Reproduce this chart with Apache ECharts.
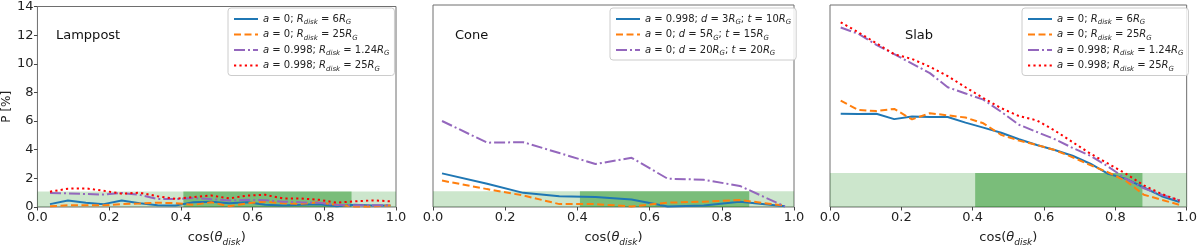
<!DOCTYPE html>
<html><head><meta charset="utf-8">
<script src="https://cdn.jsdelivr.net/npm/echarts@6/dist/echarts.min.js"></script>
<style>html,body{margin:0;padding:0;background:#fff}#c{width:1200px;height:252px}</style>
</head><body><div id="c"></div>
<script>
// ---------- data ----------
const xTicks = [0.0, 0.2, 0.4, 0.6, 0.8, 1.0];
const yTicks = [0, 2, 4, 6, 8, 10, 12, 14];
const panelTitles = ['Lamppost', 'Cone', 'Slab'];

const lampX = [0.035,0.085,0.135,0.185,0.235,0.285,0.335,0.385,0.435,0.485,0.535,0.585,0.635,0.685,0.735,0.785,0.835,0.885,0.935,0.985];
const lampA0R6 = [0.2,0.46,0.3,0.2,0.46,0.26,0.13,0.1,0.33,0.37,0.26,0.33,0.15,0.11,0.15,0.2,0.06,0.15,0.11,0.11];
const lampA0R25 = [0.05,0.12,0.12,0.12,0.2,0.24,0.3,0.27,0.15,0.33,0.05,0.26,0.37,0.26,0.22,0.33,0.15,0.04,0.04,0.1];
const lampA998R124 = [0.98,0.95,0.91,0.87,0.98,0.85,0.55,0.55,0.63,0.55,0.45,0.5,0.48,0.37,0.33,0.3,0.15,0.12,0.12,0.12];
const lampA998R25 = [1.07,1.28,1.3,1.13,0.93,1.0,0.75,0.57,0.7,0.8,0.6,0.8,0.85,0.6,0.6,0.5,0.3,0.4,0.46,0.4];

const coneX = [0.025,0.15,0.25,0.35,0.45,0.55,0.65,0.75,0.85,0.975];
const coneA998d3t10 = [2.33,1.61,0.98,0.74,0.7,0.52,0.04,0.1,0.37,0.05];
const coneA0d5t15 = [1.83,1.24,0.8,0.2,0.2,0.04,0.3,0.37,0.48,0.09];
const coneA0d20t20 = [5.96,4.46,4.49,3.74,2.98,3.41,1.96,1.89,1.46,0.04];

const slabX = [0.03,0.08,0.13,0.18,0.23,0.28,0.33,0.38,0.43,0.48,0.53,0.58,0.63,0.68,0.73,0.78,0.83,0.88,0.93,0.98];
const slabA0R6 = [6.46,6.44,6.46,6.09,6.28,6.24,6.24,5.85,5.5,5.15,4.7,4.3,3.95,3.55,3.0,2.3,1.95,1.35,0.75,0.35];
const slabA0R25 = [7.37,6.72,6.65,6.8,6.07,6.5,6.35,6.2,5.8,5.0,4.6,4.3,3.95,3.45,2.9,2.4,1.8,0.85,0.5,0.15];
const slabA998R124 = [12.44,12.0,11.24,10.59,9.94,9.28,8.3,7.87,7.44,6.6,5.7,5.2,4.7,4.1,3.55,2.8,1.95,1.3,0.85,0.45];
const slabA998R25 = [12.8,12.1,11.35,10.59,10.26,9.72,9.07,8.3,7.55,6.85,6.3,6.0,5.3,4.5,3.7,3.0,2.3,1.5,0.9,0.45];

const bandHeights = [1.08, 1.09, 2.35];   // light green horizontal band (P %)
const darkBandX = [0.407, 0.876];          // dark green cos range

// legend labels (rich text)
const lampNames = ['a0R6','a0R25','a998R124','a998R25'];
const coneNames = ['c998d3t10','c0d5t15','c0d20t20'];
const labelRich = {
  a0R6: '{i|a} = 0; {i|R}{s|disk} = 6{i|R}{s|G}',
  a0R25: '{i|a} = 0; {i|R}{s|disk} = 25{i|R}{s|G}',
  a998R124: '{i|a} = 0.998; {i|R}{s|disk} = 1.24{i|R}{s|G}',
  a998R25: '{i|a} = 0.998; {i|R}{s|disk} = 25{i|R}{s|G}',
  c998d3t10: '{i|a} = 0.998; {i|d} = 3{i|R}{s|G}; {i|t} = 10{i|R}{s|G}',
  c0d5t15: '{i|a} = 0; {i|d} = 5{i|R}{s|G}; {i|t} = 15{i|R}{s|G}',
  c0d20t20: '{i|a} = 0; {i|d} = 20{i|R}{s|G}; {i|t} = 20{i|R}{s|G}'
};

// ---------- chart ----------
const FONT = 'DejaVu Sans';
const grids = [
  {left: 34, top: 5, width: 362, height: 214},
  {left: 433, top: 5, width: 361, height: 214},
  {left: 830, top: 5, width: 359, height: 214}
];
const styles = {
  blue: {color: '#1f77b4', type: 'solid'},
  orange: {color: '#ff7f0e', type: [7, 3.5]},
  purple: {color: '#9467bd', type: [11, 3, 2, 3]},
  red: {color: '#ff0000', type: [2.2, 3.2]}
};
function pairs(xs, ys){ return xs.map((x,i)=>[x, ys[i]]); }
function mkSeries(name, gi, xs, ys, st, band){
  const s = {
    name: name, type: 'line', xAxisIndex: gi, yAxisIndex: gi,
    data: pairs(xs, ys), symbol: 'none', showSymbol: false,
    lineStyle: {color: st.color, type: st.type, width: 2},
    itemStyle: {color: st.color}, z: 3, animation: false
  };
  if (band !== undefined) {
    s.markArea = {silent: true, z: 1, data: [
      [{xAxis: 0, yAxis: 0, itemStyle: {color: 'rgba(0,128,0,0.2)'}}, {xAxis: 1, yAxis: band}],
      [{xAxis: darkBandX[0], yAxis: 0, itemStyle: {color: 'rgba(0,128,0,0.4)'}}, {xAxis: darkBandX[1], yAxis: band}]
    ]};
  }
  return s;
}
const rich = {
  i: {fontStyle: 'italic', fontFamily: FONT, fontSize: 10, color: '#222', lineHeight: 14},
  s: {fontStyle: 'italic', fontFamily: FONT, fontSize: 7, color: '#222', verticalAlign: 'bottom', lineHeight: 8.5},
};
const xRich = {
  i: {fontStyle: 'italic', fontFamily: FONT, fontSize: 13, color: '#222', lineHeight: 18},
  s: {fontStyle: 'italic', fontFamily: FONT, fontSize: 9, color: '#222', verticalAlign: 'bottom', lineHeight: 11}
};
const xAxes = grids.map((g, i) => ({
  type: 'value', gridIndex: i, min: 0, max: 1, interval: 0.2,
  name: 'cos({i|θ}{s|disk})', nameLocation: 'middle', nameGap: 22,
  nameTextStyle: {fontFamily: FONT, fontSize: 13, color: '#222', rich: xRich},
  axisLine: {show: false}, splitLine: {show: false},
  axisTick: {show: true, length: 3.5, lineStyle: {color: '#444'}},
  axisLabel: {fontFamily: FONT, fontSize: 13, color: '#222', margin: 4,
    formatter: v => v.toFixed(1)}
}));
const yAxes = grids.map((g, i) => ({
  type: 'value', gridIndex: i, min: 0, max: 14, interval: 2,
  name: i === 0 ? 'P [%]' : '', nameLocation: 'middle', nameGap: 21, nameRotate: 90,
  nameTextStyle: {fontFamily: FONT, fontSize: 12, color: '#222'},
  axisLine: {show: false}, splitLine: {show: false},
  axisTick: {show: i === 0, length: 3.5, lineStyle: {color: '#444'}},
  axisLabel: {show: i === 0, fontFamily: FONT, fontSize: 13, color: '#222', margin: 4}
}));
const legendBase = {
  orient: 'vertical', itemWidth: 24, itemHeight: 10, itemGap: 1.5,
  itemStyle: {opacity: 0},
  backgroundColor: 'rgba(255,255,255,0.85)', borderColor: '#ccc', borderWidth: 1, borderRadius: 3,
  padding: [4, 5, 3, 5],
  textStyle: {fontFamily: FONT, fontSize: 10, color: '#222', lineHeight: 14, rich: rich},
  formatter: n => labelRich[n.split('#')[0]]
};
const option = {
  animation: false,
  backgroundColor: '#fff',
  title: panelTitles.map((t, i) => ({
    text: t, left: [51, 450, 900][i], top: 24,
    textStyle: {fontFamily: FONT, fontSize: 13, fontWeight: 'normal', color: '#111'}
  })),
  grid: grids.map(g => Object.assign({show: true, borderColor: '#6e6e6e', borderWidth: 1, backgroundColor: 'transparent'}, g)),
  xAxis: xAxes, yAxis: yAxes,
  legend: [
    Object.assign({}, legendBase, {left: 228, top: 8, data: lampNames}),
    Object.assign({}, legendBase, {left: 610, top: 8, data: coneNames}),
    Object.assign({}, legendBase, {left: 1022, top: 8, data: lampNames.map(n => n + '#s')})
  ],
  series: [
    mkSeries('a0R6', 0, lampX, lampA0R6, styles.blue, bandHeights[0]),
    mkSeries('a0R25', 0, lampX, lampA0R25, styles.orange),
    mkSeries('a998R124', 0, lampX, lampA998R124, styles.purple),
    mkSeries('a998R25', 0, lampX, lampA998R25, styles.red),
    mkSeries('c998d3t10', 1, coneX, coneA998d3t10, styles.blue, bandHeights[1]),
    mkSeries('c0d5t15', 1, coneX, coneA0d5t15, styles.orange),
    mkSeries('c0d20t20', 1, coneX, coneA0d20t20, styles.purple),
    mkSeries('a0R6#s', 2, slabX, slabA0R6, styles.blue, bandHeights[2]),
    mkSeries('a0R25#s', 2, slabX, slabA0R25, styles.orange),
    mkSeries('a998R124#s', 2, slabX, slabA998R124, styles.purple),
    mkSeries('a998R25#s', 2, slabX, slabA998R25, styles.red)
  ]
};
const chart = echarts.init(document.getElementById('c'), null, {renderer: 'canvas'});
chart.setOption(option);
</script></body></html>
